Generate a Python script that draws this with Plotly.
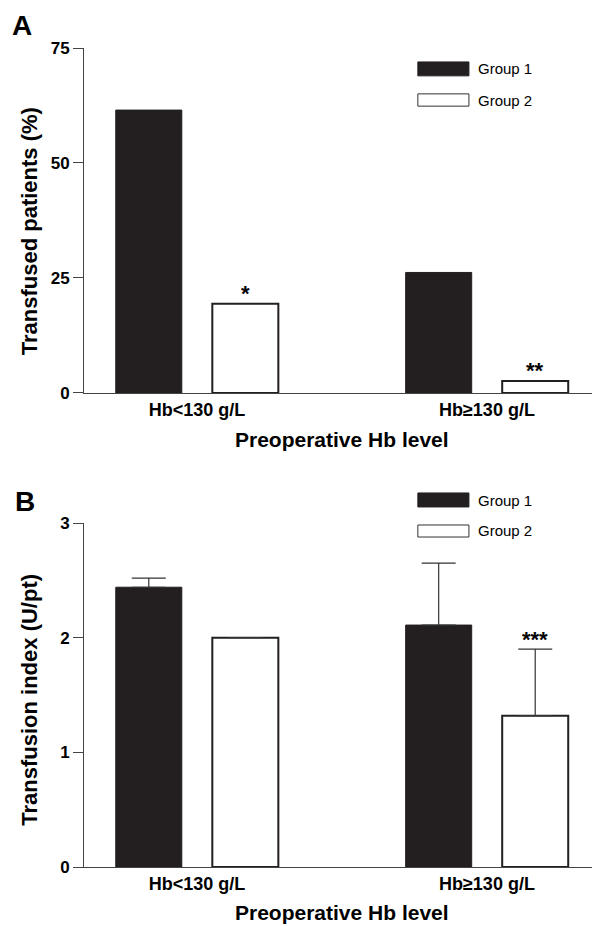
import plotly.graph_objects as go
from plotly.subplots import make_subplots

categories = ["Hb<130 g/L", "Hb\u2265130 g/L"]
group_names = ["Group 1", "Group 2"]

# Panel A: transfused patients (%)
a_group1 = [61.5, 26.2]
a_group2 = [19.4, 2.6]
a_marks = ["*", "**"]

# Panel B: transfusion index (U/pt)
b_group1 = [2.44, 2.11]
b_group2 = [2.0, 1.32]
b_group1_err = [0.08, 0.54]
b_group2_err = [0.0, 0.58]
b_marks = ["", "***"]

BLACK = "#231f20"
AXIS = "#444444"
FONT = "Liberation Sans, Arial, sans-serif"

fig = make_subplots(rows=2, cols=1, vertical_spacing=0.0)

def err(arr):
    return dict(type="data", array=arr, symmetric=False, arrayminus=[0] * len(arr),
                color="#333333", thickness=1.2, width=17)

def add_panel(row, g1, g2, e1=None, e2=None):
    fig.add_trace(go.Bar(
        x=categories, y=g1, name=group_names[0], showlegend=False,
        marker=dict(color=BLACK, line=dict(color=BLACK, width=1)),
        error_y=err(e1) if e1 else None,
    ), row=row, col=1)
    fig.add_trace(go.Bar(
        x=categories, y=g2, name=group_names[1], showlegend=False,
        marker=dict(color="white", line=dict(color=BLACK, width=2)),
        error_y=err(e2) if e2 else None,
    ), row=row, col=1)

add_panel(1, a_group1, a_group2)
add_panel(2, b_group1, b_group2, b_group1_err, b_group2_err)

fig.update_xaxes(
    range=[-0.39, 1.39], showline=True, linecolor=AXIS, linewidth=1,
    ticks="", showgrid=False, zeroline=False,
    tickfont=dict(family=FONT, size=18, color="black", weight="bold"),
)
fig.update_yaxes(
    showline=True, linecolor=AXIS, linewidth=1, ticks="outside", ticklen=10,
    tickcolor=AXIS, tickwidth=1, showgrid=False, zeroline=False,
    tickfont=dict(family=FONT, size=17, color="black", weight="bold"),
)
fig.update_yaxes(range=[0, 75], tickvals=[0, 25, 50, 75], domain=[0.5788, 1.0], row=1, col=1)
fig.update_yaxes(range=[0, 3], tickvals=[0, 1, 2, 3], domain=[0.0, 0.42], row=2, col=1)

# page body has an 8px margin, so the figure is sized/offset to fill the 600x926 window
fig.update_layout(
    width=592, height=918, barmode="group", bargap=0.334, bargroupgap=0.316,
    margin=dict(l=76, r=0, t=40, b=59),
    plot_bgcolor="white", paper_bgcolor="white",
    font=dict(family=FONT, color="black"),
    showlegend=False,
)

ann = []
shapes = []
mark_font = dict(family=FONT, size=22, color="black", weight="bold")
for cat, v, m in zip(categories, a_group2, a_marks):
    ann.append(dict(x=cat, y=v, xref="x", yref="y", text=m, showarrow=False,
                    xshift=48, yanchor="bottom", yshift=-4, font=mark_font))
for cat, v, e, m in zip(categories, b_group2, b_group2_err, b_marks):
    if m:
        ann.append(dict(x=cat, y=v + e, xref="x2", yref="y2", text=m, showarrow=False,
                        xshift=48, yanchor="bottom", yshift=-5, font=mark_font))

def txt(x, y, text, size, angle=0, xanchor="center", weight="bold"):
    ann.append(dict(x=x, y=y, xref="paper", yref="paper", text=text, textangle=angle,
                    showarrow=False, xanchor=xanchor, yanchor="middle",
                    font=dict(family=FONT, size=size, weight=weight, color="black")))

# panel labels
txt(-0.12, 1.028, "A", 28)
txt(-0.114, 0.4457, "B", 28)
# axis titles
txt(-0.105, 0.776, "Transfused patients (%)", 22, angle=-90)
txt(-0.105, 0.204, "Transfusion index (U/pt)", 22, angle=-90)
txt(0.5, 0.5214, "Preoperative Hb level", 21)
txt(0.5, -0.056, "Preoperative Hb level", 21)

# custom legends
for (y1a, y1b, ty1, y2a, y2b, ty2) in [(0.983, 0.966, 0.9745, 0.944, 0.929, 0.9365),
                                       (0.4567, 0.4396, 0.448, 0.4176, 0.4029, 0.4103)]:
    shapes.append(dict(type="rect", xref="paper", yref="paper", x0=0.647, x1=0.746,
                       y0=y1b, y1=y1a, fillcolor=BLACK, line=dict(color=BLACK, width=1)))
    shapes.append(dict(type="rect", xref="paper", yref="paper", x0=0.647, x1=0.746,
                       y0=y2b, y1=y2a, fillcolor="white", line=dict(color="#333333", width=1)))
    txt(0.760, ty1, group_names[0], 15, xanchor="left", weight="normal")
    txt(0.760, ty2, group_names[1], 15, xanchor="left", weight="normal")

fig.update_layout(annotations=ann, shapes=shapes)
fig.write_html("out.html")
